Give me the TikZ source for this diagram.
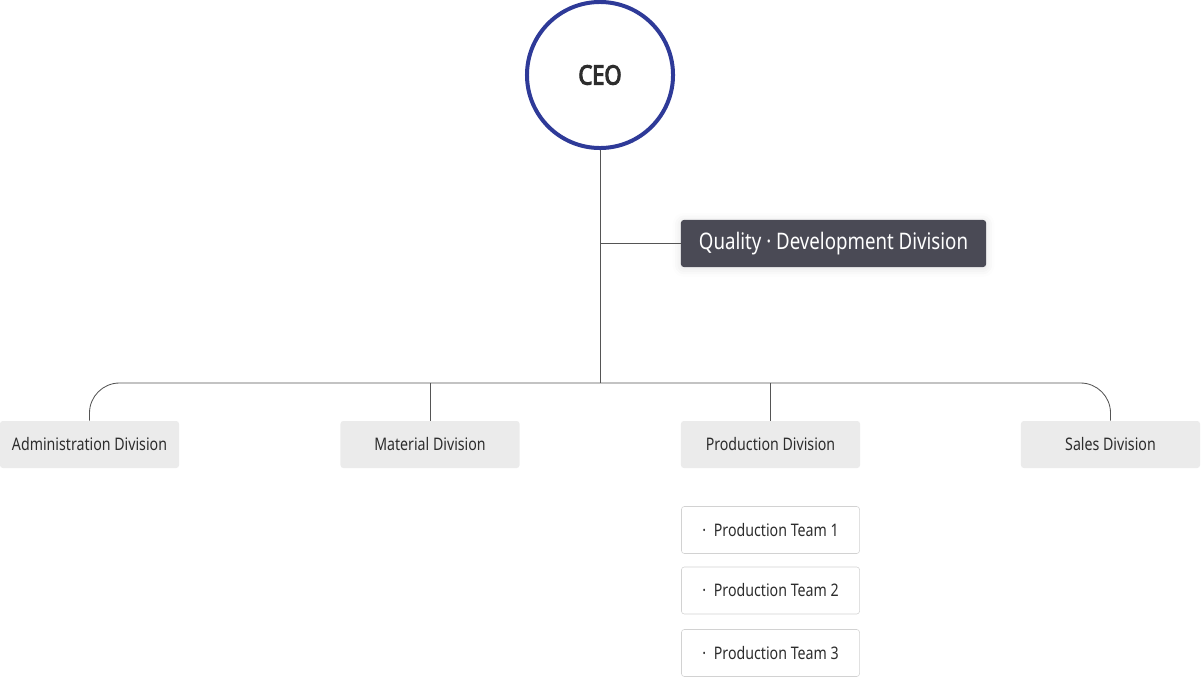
\documentclass[tikz,border=0pt]{standalone}
\usepackage{fontspec}
\setmainfont[FakeStretch=0.82]{Noto Sans}
\newfontfamily\ceofont[FakeStretch=0.82, FakeBold=4]{Noto Sans}
\usetikzlibrary{shadows.blur}
\definecolor{ceoblue}{RGB}{46,58,152}
\definecolor{qualgray}{RGB}{74,74,85}
\definecolor{divgray}{RGB}{235,235,235}
\definecolor{txtgray}{RGB}{45,45,45}
\definecolor{linegray}{RGB}{85,85,85}
\definecolor{teamline}{RGB}{210,210,210}
\begin{document}
\begin{tikzpicture}[
  x=0.025cm, y=-0.025cm,
  ceonode/.style={circle, draw=ceoblue, line width=0.1cm, fill=white, minimum size=3.65cm, inner sep=0,
    text=txtgray, font=\fontsize{19}{22}\ceofont},
  qualnode/.style={rectangle, rounded corners=2pt, fill=qualgray, minimum width=7.625cm, minimum height=1.175cm,
    inner sep=0, text=white, font=\fontsize{16.2}{19}\selectfont,
    blur shadow={shadow xshift=0pt, shadow yshift=-1pt, shadow blur radius=6pt, shadow opacity=12}},
  divnode/.style={rectangle, rounded corners=2pt, fill=divgray, minimum width=4.475cm, minimum height=1.175cm,
    inner sep=0, text=txtgray, font=\fontsize{12.3}{15}\selectfont},
  teamnode/.style={rectangle, rounded corners=2pt, draw=teamline, fill=white, minimum width=4.45cm, minimum height=1.175cm,
    inner sep=0, text=txtgray, font=\fontsize{12.3}{15}\selectfont},
  link/.style={draw=linegray, line width=0.6pt}
]
\useasboundingbox (0,0) rectangle (1201,678);
\node[ceonode] (ceo) at (600,75) {CEO};
\node[qualnode] (qdd) at (833.5,243.5) {Quality · Development Division};
\coordinate (bus) at (600,383);
\node[divnode] (adm) at (89.5,444.5) {Administration Division};
\node[divnode] (mat) at (430,444.5) {Material Division};
\node[divnode] (pro) at (770.5,444.5) {Production Division};
\node[divnode] (sal) at (1110.5,444.5) {Sales Division};
\foreach \i/\y in {1/530,2/590.5,3/653}{
  \node[teamnode] (team\i) at (770.5,\y) {·\hspace{0.45em}Production Team \i};
}
% connectors
\draw[link] (ceo.south) -- (bus);
\draw[link] (ceo.south |- qdd.west) -- (qdd.west);
\draw[link, rounded corners=0.75cm] (adm.north) |- (bus) -| (sal.north);
\draw[link] (mat.north |- bus) -- (mat.north);
\draw[link] (pro.north |- bus) -- (pro.north);
\end{tikzpicture}
\end{document}
